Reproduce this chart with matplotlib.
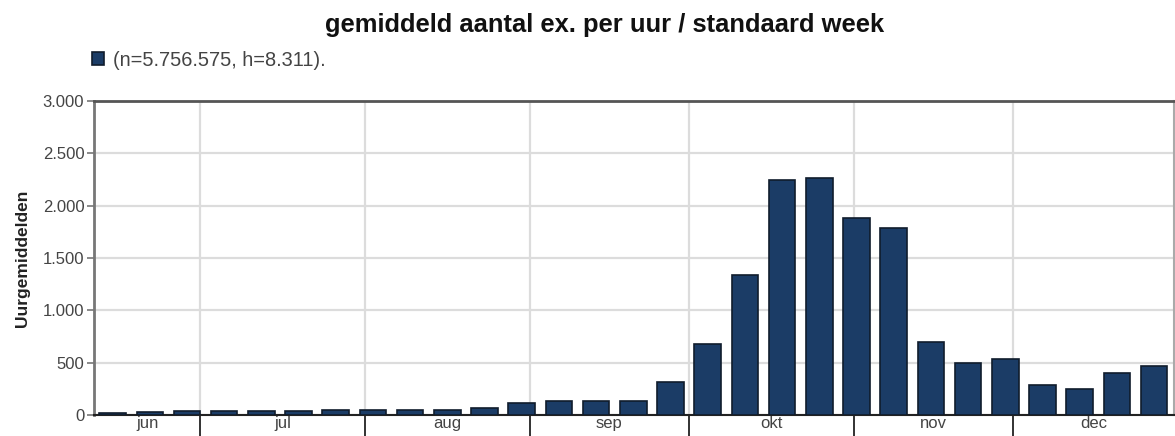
import matplotlib
matplotlib.use('Agg')
import matplotlib.pyplot as plt
import matplotlib.dates as mdates
import matplotlib.ticker as ticker
import pandas as pd

plt.rcParams['font.family'] = ['Liberation Sans', 'DejaVu Sans']

# weekly bars (week start dates) and their hourly averages
week_start = pd.date_range('2015-06-11', periods=29, freq='7D')
values = [15, 28, 40, 40, 40, 42, 52, 52, 52, 52, 70, 115, 130, 130, 130,
          318, 680, 1340, 2245, 2265, 1880, 1785, 700, 494, 535, 286, 245, 398, 471]

months = ['jun', 'jul', 'aug', 'sep', 'okt', 'nov', 'dec']
month_start = pd.to_datetime(['2015-06-01', '2015-07-01', '2015-08-01', '2015-09-01',
                              '2015-10-01', '2015-11-01', '2015-12-01', '2016-01-01'])
x_min = pd.Timestamp('2015-06-11')
x_max = pd.Timestamp('2015-12-31 06:00')

title = 'gemiddeld aantal ex. per uur / standaard week'
legend_label = '(n=5.756.575, h=8.311).'
y_label = 'Uurgemiddelden'

fig = plt.figure(figsize=(11.75, 4.36), dpi=100)
ax = fig.add_axes([94 / 1175, 1 - 415 / 436, 1080 / 1175, 314 / 436])

bars = ax.bar(week_start + pd.Timedelta(days=3.5), values, width=5.0,
              color='#1b3c66', edgecolor='#101c2c', linewidth=1.2, zorder=3,
              label=legend_label)

ax.set_xlim(x_min, x_max)
ax.set_ylim(0, 3000)

# y axis
ax.yaxis.set_major_locator(ticker.MultipleLocator(500))
ax.yaxis.set_major_formatter(ticker.FuncFormatter(lambda v, p: f'{int(v):,}'.replace(',', '.')))
ax.tick_params(axis='y', length=5, width=1.2, color='#777777', labelsize=12,
               labelcolor='#444444', pad=2)
ax.set_ylabel(y_label, fontsize=12.5, fontweight='bold', color='#222222', labelpad=9)

# x axis: boundaries as long major ticks, month names as minor tick labels
bounds = [m for m in month_start if x_min < m < x_max]
ax.set_xticks(mdates.date2num(bounds))
ax.set_xticklabels([])
mids = []
for i in range(len(months)):
    a = max(month_start[i], x_min)
    b = min(month_start[i + 1], x_max)
    mids.append(mdates.date2num(a) + (mdates.date2num(b) - mdates.date2num(a)) / 2)
ax.set_xticks(mids, minor=True)
ax.set_xticklabels(months, minor=True)
ax.tick_params(axis='x', which='major', length=15, width=1.3, color='#222222')
ax.tick_params(axis='x', which='minor', length=0, labelsize=12, labelcolor='#444444', pad=1)

ax.grid(True, which='major', color='#dcdcdc', linewidth=1.6, zorder=0)

for side, col, lw in [('left', '#777777', 2.0), ('top', '#555555', 2.0),
                      ('right', '#aaaaaa', 1.5), ('bottom', '#222222', 1.5)]:
    ax.spines[side].set_color(col)
    ax.spines[side].set_linewidth(lw)

fig.text(605 / 1175, 1 - 25 / 436, title, ha='center', va='center',
         fontsize=18.4, fontweight='bold', color='#111111')

fig.legend(handles=[bars], labels=[legend_label], loc='center left',
           bbox_to_anchor=(84 / 1175, 1 - 60 / 436), frameon=False,
           handlelength=0.62, handleheight=0.62, handletextpad=0.45,
           fontsize=14.4, labelcolor='#444444', borderaxespad=0)

fig.savefig('out.png', dpi=100)
